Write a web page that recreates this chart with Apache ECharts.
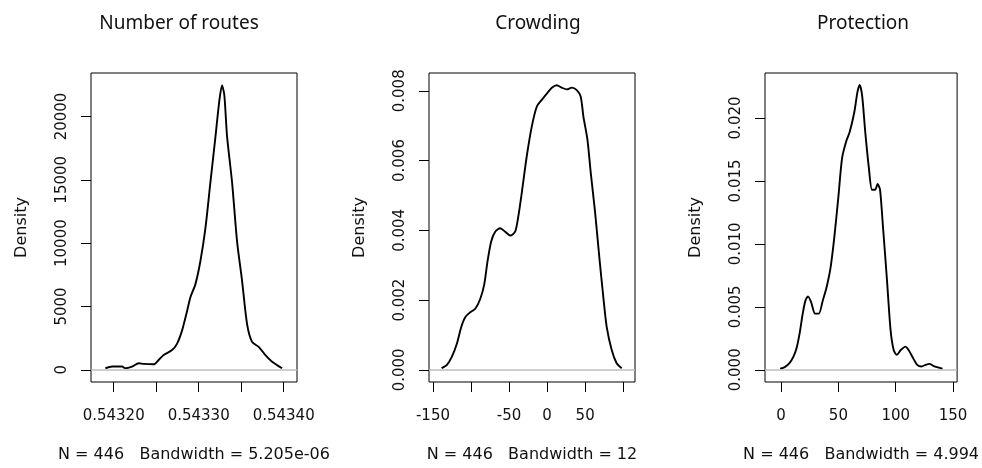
<!DOCTYPE html>
<html><head><meta charset="utf-8">
<script src="https://cdn.jsdelivr.net/npm/echarts@6/dist/echarts.min.js"></script>
<style>html,body{margin:0;padding:0;background:#fff}#c{width:982px;height:468px}</style>
</head><body><div id="c"></div>
<script>
// ---------- data ----------
const titles = ['Number of routes', 'Crowding', 'Protection'];
const subtitles = ['N = 446   Bandwidth = 5.205e-06', 'N = 446   Bandwidth = 12', 'N = 446   Bandwidth = 4.994'];
const yName = 'Density';

const routesX = [0.5431902,0.5431981,0.5432099,0.5432138,0.5432216,0.5432294,0.5432353,0.5432471,0.5432529,0.5432588,0.5432687,0.5432746,0.5432805,0.5432864,0.5432902,0.5432961,0.5433020,0.5433079,0.5433138,0.5433196,0.5433244,0.5433275,0.5433302,0.5433334,0.5433393,0.5433452,0.5433511,0.5433569,0.5433628,0.5433706,0.5433785,0.5433864,0.5433981];
const routesDensity = [125,257,257,125,257,514,467,436,779,1168,1558,2072,3115,4650,5709,6745,8567,11160,14797,18302,21285,22453,21675,18427,14797,10124,7009,3629,2204,1815,1168,646,125];

const crowdingX = [-138.6,-131.6,-125.1,-118.5,-112.8,-107.6,-101,-94.4,-87.9,-82.6,-78.3,-73.5,-68.2,-61.6,-55.1,-48.5,-42,-37.6,-33.2,-26.7,-20.1,-13.5,-7,-0.4,6.2,12.7,19.3,25.8,32.4,39,44.2,47.7,53,57.3,63,68.7,73.9,78.3,84.9,91.4,98];
const crowdingDensity = [0.000047,0.000142,0.000377,0.000755,0.00123,0.00151,0.00165,0.00175,0.00203,0.00245,0.00311,0.00368,0.00396,0.00406,0.00396,0.00385,0.00396,0.00443,0.00509,0.00613,0.00698,0.00755,0.00774,0.00792,0.00809,0.00816,0.00809,0.00804,0.00809,0.00802,0.00783,0.00726,0.0066,0.00566,0.00453,0.00321,0.00208,0.00123,0.000566,0.000189,0.000047];

const protectionX = [-0.8,3.2,7.3,10.8,13.5,16.2,18.9,21.3,23.5,26.2,29.7,32.9,36.4,39.7,43.2,46.4,49.9,53.2,56.7,59.9,63.9,66.6,68.5,70.7,73.4,76.6,79.3,82,84.2,86.3,89,92.3,95.5,98.2,100.9,104.4,108.5,111.2,115.2,118.7,122.5,126,129.5,132.7,136.8,140.8];
const protectionDensity = [0.000079,0.00021,0.000525,0.00105,0.00171,0.00289,0.00446,0.00551,0.00583,0.00538,0.00446,0.00446,0.00551,0.00656,0.00814,0.0105,0.01365,0.0168,0.01811,0.0189,0.02047,0.02205,0.02263,0.02178,0.0189,0.01601,0.0143,0.0143,0.01475,0.0143,0.0112,0.0072,0.00315,0.00157,0.00118,0.00157,0.00184,0.00157,0.000919,0.000394,0.000262,0.000394,0.000472,0.000315,0.000184,0.000079];

// axis ranges and ticks
const routesXRange = [0.5431733, 0.5434157];
const routesYRange = [-961, 23429];
const routesXTicks = [0.54320, 0.54325, 0.54330, 0.54335, 0.54340];
const routesXLabels = [0.54320, 0.54330, 0.54340];
const routesYTicks = [0, 5000, 10000, 15000, 20000];

const crowdingXRange = [-155.2, 115.5];
const crowdingYRange = [-0.000349, 0.00851];
const crowdingXTicks = [-150, -100, -50, 0, 50, 100];
const crowdingXLabels = [-150, -50, 0, 50];
const crowdingYTicks = [0, 0.002, 0.004, 0.006, 0.008];

const protectionXRange = [-14.0, 153.5];
const protectionYRange = [-0.000971, 0.02357];
const protectionXTicks = [0, 50, 100, 150];
const protectionXLabels = [0, 50, 100, 150];
const protectionYTicks = [0, 0.005, 0.010, 0.015, 0.020];

// ---------- layout ----------
const panels = [
  {x: routesX, y: routesDensity, xr: routesXRange, yr: routesYRange, xt: routesXTicks, xl: routesXLabels, yt: routesYTicks,
   xf: v => v.toFixed(5), yf: v => String(Math.round(v))},
  {x: crowdingX, y: crowdingDensity, xr: crowdingXRange, yr: crowdingYRange, xt: crowdingXTicks, xl: crowdingXLabels, yt: crowdingYTicks,
   xf: v => String(Math.round(v)), yf: v => v.toFixed(3)},
  {x: protectionX, y: protectionDensity, xr: protectionXRange, yr: protectionYRange, xt: protectionXTicks, xl: protectionXLabels, yt: protectionYTicks,
   xf: v => String(Math.round(v)), yf: v => v.toFixed(3)}
];
const gridBoxes = [
  {left: 91, top: 73, width: 206, height: 313},
  {left: 429, top: 73, width: 206, height: 313},
  {left: 765, top: 73, width: 207, height: 313}
];
const titleCenters = [179, 538, 863];
const FONT = '"DejaVu Sans", "Liberation Sans", Arial, sans-serif';
const TXT = '#111';

const option = {
  animation: false,
  backgroundColor: '#fff',
  grid: gridBoxes.map(g => Object.assign({show: true, borderColor: '#000', borderWidth: 1, backgroundColor: 'transparent', containLabel: false}, g)),
  xAxis: panels.map((p, i) => ({
    gridIndex: i, type: 'value', min: p.xr[0], max: p.xr[1], position: 'bottom',
    axisLine: {show: false, onZero: false}, splitLine: {show: false},
    axisTick: {show: true, inside: false, length: 10, customValues: p.xt, lineStyle: {color: '#000', width: 1}},
    axisLabel: {customValues: p.xl, formatter: p.xf, margin: 27, fontFamily: FONT, fontSize: 15, color: TXT},
    name: subtitles[i], nameLocation: 'middle', nameGap: 65,
    nameTextStyle: {fontFamily: FONT, fontSize: 16, color: TXT}
  })),
  yAxis: panels.map((p, i) => ({
    gridIndex: i, type: 'value', min: p.yr[0], max: p.yr[1], position: 'left',
    axisLine: {show: false, onZero: false}, splitLine: {show: false},
    axisTick: {show: true, inside: false, length: 10, customValues: p.yt, lineStyle: {color: '#000', width: 1}},
    axisLabel: {customValues: p.yt, formatter: p.yf, rotate: 90, margin: 21, fontFamily: FONT, fontSize: 15, color: TXT},
    name: yName, nameLocation: 'middle', nameRotate: 90, nameGap: 61,
    nameTextStyle: {fontFamily: FONT, fontSize: 16, color: TXT}
  })),
  series: panels.map((p, i) => ({
    type: 'line', xAxisIndex: i, yAxisIndex: i,
    data: p.x.map((v, k) => [v, p.y[k]]),
    showSymbol: false, smooth: 0.25,
    lineStyle: {color: '#000', width: 1.9},
    markLine: {silent: true, symbol: ['none', 'none'], label: {show: false},
      lineStyle: {color: '#bebebe', type: 'solid', width: 1.5}, data: [{yAxis: 0}]},
    z: 3
  })),
  graphic: titles.map((t, i) => ({
    type: 'text', x: titleCenters[i], y: 24,
    style: {text: t, align: 'center', verticalAlign: 'middle', textAlign: 'center', textVerticalAlign: 'middle',
      font: '19px "Noto Sans", "Open Sans", sans-serif', fill: '#111'}
  }))
};

const chart = echarts.init(document.getElementById('c'), null, {renderer: 'canvas'});
chart.setOption(option);
</script>
</body></html>
